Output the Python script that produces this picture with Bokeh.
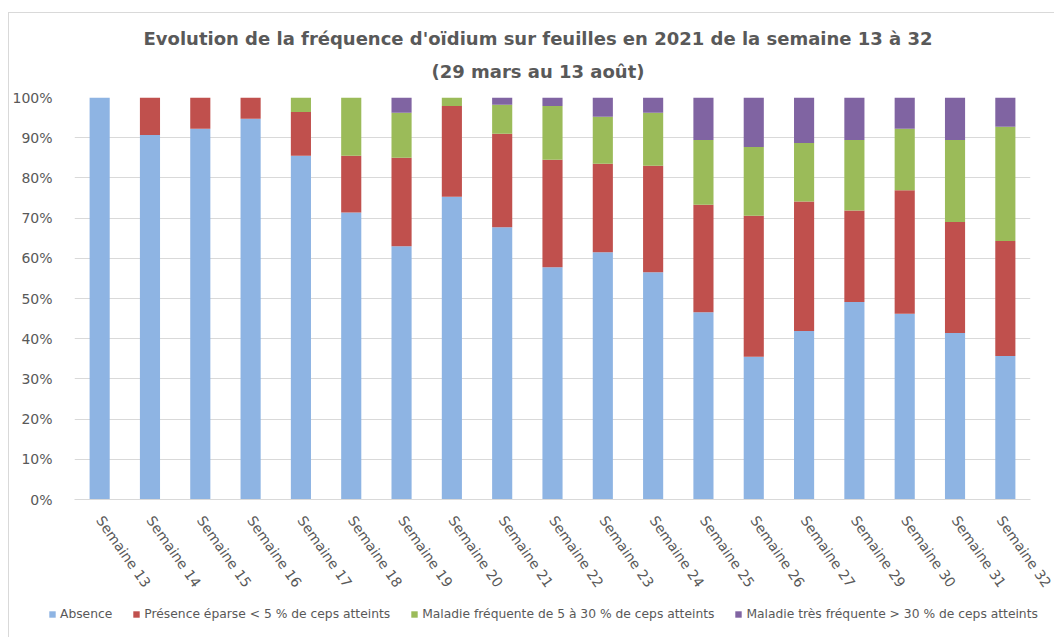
from bokeh.plotting import figure
from bokeh.layouts import column
from bokeh.models import (ColumnDataSource, FixedTicker, PrintfTickFormatter, Legend,
                          LegendItem, Title, Range1d)
from bokeh.embed import file_html
from bokeh.resources import INLINE

weeks = ["Semaine 13", "Semaine 14", "Semaine 15", "Semaine 16", "Semaine 17",
         "Semaine 18", "Semaine 19", "Semaine 20", "Semaine 21", "Semaine 22",
         "Semaine 23", "Semaine 24", "Semaine 25", "Semaine 26", "Semaine 27",
         "Semaine 29", "Semaine 30", "Semaine 31", "Semaine 32"]
absence = [100, 90.7, 92.2, 94.7, 85.5, 71.4, 63.0, 75.3, 67.7, 57.8,
           61.5, 56.5, 46.6, 35.5, 41.9, 49.1, 46.2, 41.4, 35.7]
presence = [0, 9.3, 7.8, 5.3, 10.9, 14.1, 22.0, 22.6, 23.3, 26.7,
            22.0, 26.5, 26.7, 35.1, 32.2, 22.8, 30.7, 27.6, 28.6]
frequente = [0, 0, 0, 0, 3.6, 14.5, 11.2, 2.1, 7.2, 13.4,
             11.7, 13.2, 16.1, 17.1, 14.6, 17.5, 15.3, 20.4, 28.4]
tres_frequente = [0, 0, 0, 0, 0, 0, 3.8, 0, 1.8, 2.1,
                  4.8, 3.8, 10.6, 12.3, 11.3, 10.6, 7.8, 10.6, 7.3]
series_names = ["Absence",
                "Présence éparse < 5 % de ceps atteints",
                "Maladie fréquente de 5 à 30 % de ceps atteints",
                "Maladie très fréquente > 30 % de ceps atteints"]
colors = ["#8EB4E3", "#C0504D", "#9BBB59", "#8064A2"]
y_ticks = [0, 10, 20, 30, 40, 50, 60, 70, 80, 90, 100]
title_line1 = "Evolution de la fréquence d'oïdium sur feuilles en 2021 de la semaine 13 à 32"
title_line2 = "(29 mars au 13 août)"

xpos = list(range(len(weeks)))
source = ColumnDataSource(dict(x=xpos, absence=absence, presence=presence,
                               frequente=frequente, tres=tres_frequente))

TEXT = "#595959"
FONT = "DejaVu Sans"
W = 1045

p = figure(width=W, height=587, output_backend="svg", toolbar_location=None,
           x_range=Range1d(-0.5, len(weeks) - 0.5), y_range=Range1d(0, 100),
           min_border_left=62, min_border_right=24, min_border_top=84,
           min_border_bottom=101)
p.outline_line_color = None

renderers = p.vbar_stack(["absence", "presence", "frequente", "tres"], x="x",
                         width=0.4, color=colors, line_color=None, source=source)

t2 = Title(text=title_line2, align="left", text_font=FONT,
           text_font_size="18px", text_font_style="bold", text_color=TEXT,
           offset=357, standoff=32)
t1 = Title(text=title_line1, align="left", text_font=FONT,
           text_font_size="18px", text_font_style="bold", text_color=TEXT,
           offset=69, standoff=0)
try:
    t1.standoff = -13
except Exception:
    t1.standoff = 0
p.add_layout(t2, "above")
p.add_layout(t1, "above")

p.yaxis.ticker = FixedTicker(ticks=y_ticks)
p.yaxis.formatter = PrintfTickFormatter(format="%d%%")
p.yaxis.axis_line_color = None
p.yaxis.major_tick_line_color = None
p.yaxis.minor_tick_line_color = None
p.yaxis.major_label_text_font = FONT
p.yaxis.major_label_text_font_size = "14px"
p.yaxis.major_label_text_color = TEXT
p.yaxis.major_label_standoff = 16

p.xaxis.ticker = FixedTicker(ticks=xpos)
p.xaxis.major_label_overrides = {i: w for i, w in enumerate(weeks)}
p.xaxis.major_label_orientation = -0.96
p.xaxis.axis_line_color = "#D9D9D9"
p.xaxis.major_tick_line_color = None
p.xaxis.minor_tick_line_color = None
p.xaxis.major_label_text_font = FONT
p.xaxis.major_label_text_font_size = "14px"
p.xaxis.major_label_text_color = TEXT
p.xaxis.major_label_standoff = 12

p.xgrid.grid_line_color = None
p.ygrid.grid_line_color = "#D9D9D9"
p.ygrid.ticker = FixedTicker(ticks=y_ticks)

# legend in a separate strip below the chart; its proxy glyphs sit outside the view
lg = figure(width=W, height=37, output_backend="svg", toolbar_location=None,
            x_range=Range1d(0, 1), y_range=Range1d(0, 1),
            x_axis_location=None, y_axis_location=None,
            min_border_left=0, min_border_right=0, min_border_top=0, min_border_bottom=0)
lg.outline_line_color = None
lg.xgrid.grid_line_color = None
lg.ygrid.grid_line_color = None
try:
    lg.frame_align = False
    lx = 39
except Exception:
    lx = 0
proxies = [lg.rect(x=[-5], y=[-5], width=1, height=1, fill_color=c, line_color=None)
           for c in colors]
legend = Legend(items=[LegendItem(label=n, renderers=[r]) for n, r in zip(series_names, proxies)],
                orientation="horizontal", location=(lx, 16),
                border_line_color=None, background_fill_alpha=0,
                label_text_font=FONT, label_text_font_size="12.3px",
                label_text_color=TEXT, glyph_width=8, glyph_height=8, label_height=14,
                label_standoff=4, spacing=20, padding=0, margin=0)
lg.add_layout(legend, "center")

layout = column(p, lg, spacing=0, margin=(12, 0, 0, 8),
                styles={"border-left": "1px solid #D9D9D9", "border-top": "1px solid #D9D9D9"})
open("out.html", "w").write(file_html(layout, INLINE))
